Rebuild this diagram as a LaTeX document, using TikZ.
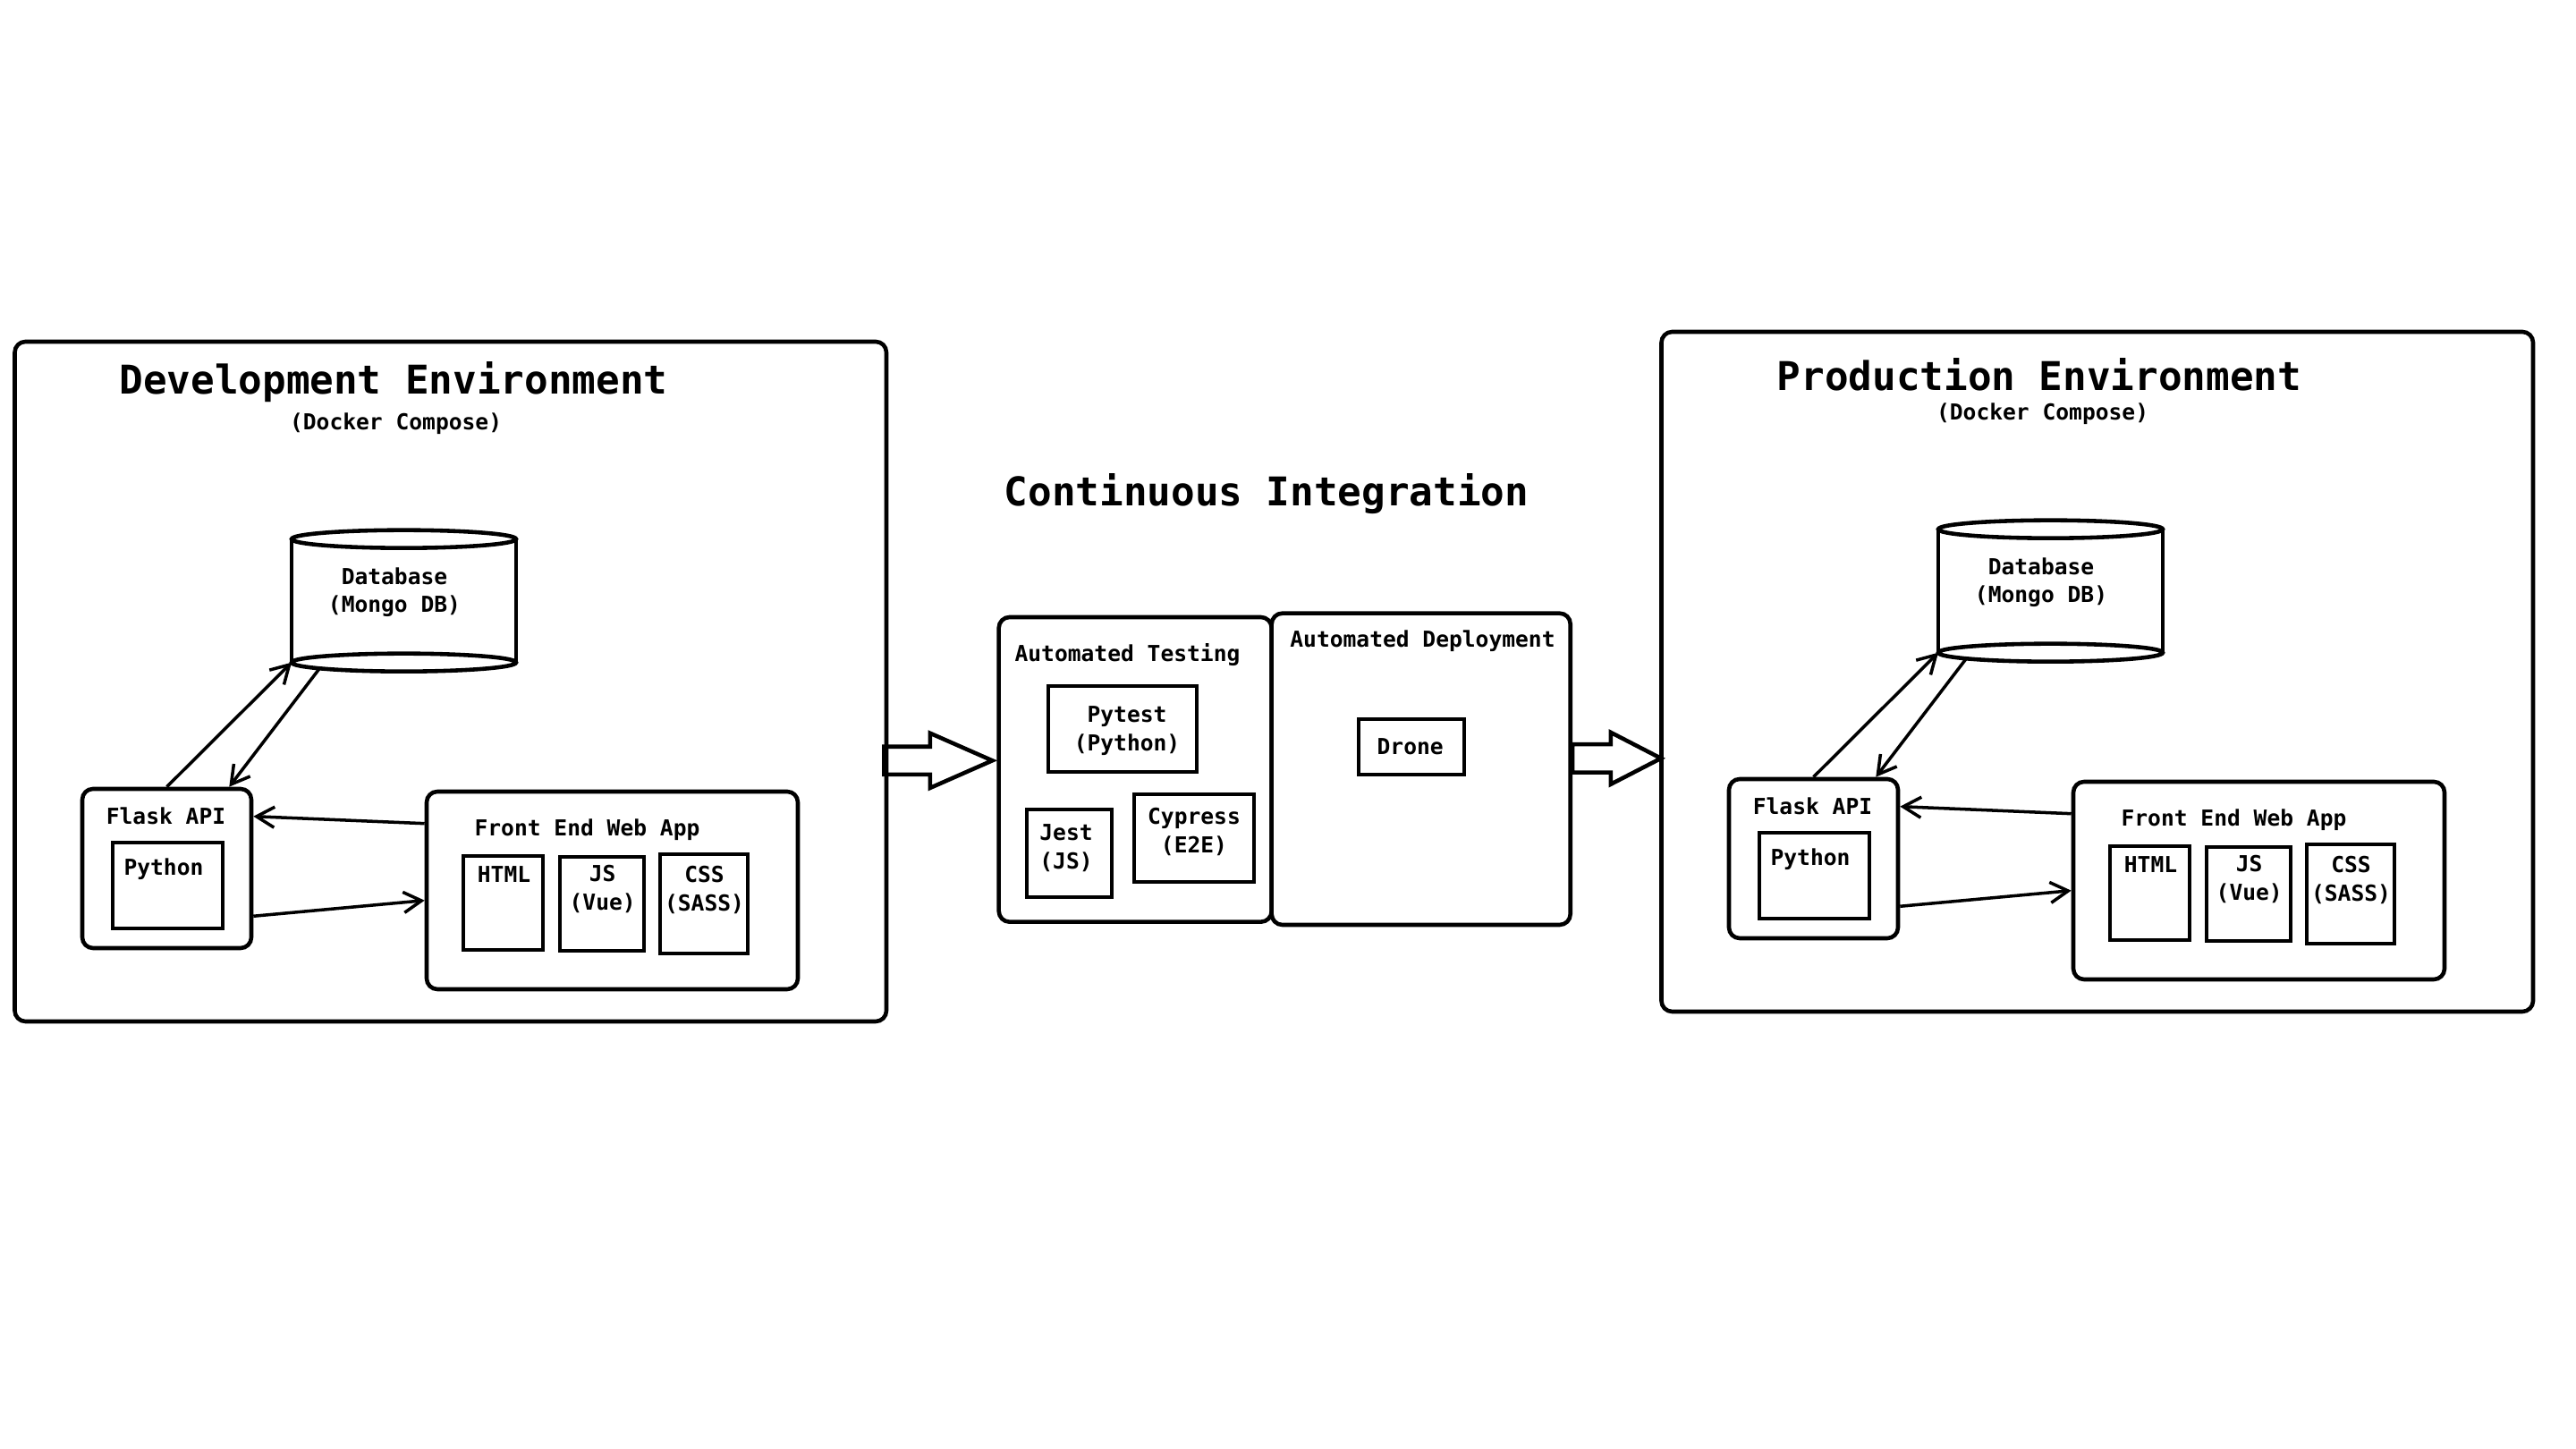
\documentclass[tikz,border=0pt]{standalone}
\usepackage{fontspec}
\setmonofont{DejaVu Sans Mono}
\usepackage{tikz}
\usetikzlibrary{shapes.arrows,arrows.meta}
\tikzstyle{texto}=[inner sep=0pt,anchor=base,align=center,font=\ttfamily\bfseries\fontsize{7}{9}\selectfont]
\tikzstyle{titulo}=[inner sep=0pt,anchor=base,font=\ttfamily\bfseries\fontsize{12.6}{15}\selectfont]
\tikzstyle{quadro}=[draw,line width=1.3pt,rounded corners=1.2mm,inner sep=0pt]
\tikzstyle{caixa}=[draw,line width=1.2pt,inner sep=0pt]
\tikzstyle{banco}=[inner sep=0pt,outer sep=0pt,minimum width=2.51cm,minimum height=1.38cm]
\tikzstyle{seta}=[line width=1pt,-{Straight Barb[length=2mm,width=2.3mm]}]
\tikzstyle{setagrande}=[draw,single arrow,line width=1.3pt,inner xsep=0pt,outer sep=0pt]

\begin{document}
\begin{tikzpicture}
    \path [fill=white] (0,0) rectangle (28.8,16.2);

    % Development
    \node [quadro,minimum width=9.745cm,minimum height=7.6cm] (devenv) at (5.0375,8.58) {};
    \node [titulo] (devtitulo) at (4.40,11.79) {Development Environment};
    \node [texto] (devdocker) at (4.426,11.39) {(Docker Compose)};
    \node [banco] (devdb) at (4.515,9.483) {};
    \draw [line width=1.3pt] (devdb.north west) -- (devdb.south west) (devdb.north east) -- (devdb.south east);
    \draw [line width=1.3pt] (devdb.north) ellipse [x radius=1.255cm, y radius=0.1cm];
    \draw [line width=1.3pt] (devdb.south) ellipse [x radius=1.255cm, y radius=0.1cm];
    \node [texto] (devdbtexto) at (4.41,9.351) {Database\\(Mongo DB)};
    \node [quadro,minimum width=1.89cm,minimum height=1.78cm] (devflask) at (1.865,6.49) {};
    \node [texto] (devflasktexto) at (1.855,6.98) {Flask API};
    \node [caixa,minimum width=1.23cm,minimum height=0.96cm] (devpy) at (1.875,6.30) {};
    \node [texto] (devpytexto) at (1.83,6.41) {Python};
    \node [quadro,minimum width=4.15cm,minimum height=2.21cm] (devfe) at (6.845,6.245) {};
    \node [texto] (devfetexto) at (6.565,6.85) {Front End Web App};
    \node [caixa,minimum width=0.89cm,minimum height=1.05cm] (devhtml) at (5.625,6.105) {};
    \node [texto] (devhtmltexto) at (5.635,6.33) {HTML};
    \node [caixa,minimum width=0.94cm,minimum height=1.05cm] (devjs) at (6.73,6.095) {};
    \node [texto] (devjstexto) at (6.737,6.024) {JS\\(Vue)};
    \node [caixa,minimum width=0.98cm,minimum height=1.11cm] (devcss) at (7.87,6.095) {};
    \node [texto] (devcsstexto) at (7.875,6.014) {CSS\\(SASS)};
    \draw [seta] (devflask.north) -- (devdb.south west);
    \draw [seta] ([xshift=3.1mm,yshift=-0.7mm]devdb.south west) -- ([xshift=-2.7mm]devflask.north east);
    \draw [seta] ([yshift=-3.8mm]devfe.north west) -- ([yshift=-3.3mm]devflask.north east);
    \draw [seta] ([yshift=3.8mm]devflask.south east) -- ([yshift=-12.4mm]devfe.north west);

    % Continuous Integration
    \node [titulo] (ci) at (14.16,10.54) {Continuous Integration};
    \node [quadro,minimum width=3.05cm,minimum height=3.407cm] (teste) at (12.692,7.5965) {};
    \node [texto] (testetexto) at (12.605,8.80) {Automated Testing};
    \node [caixa,minimum width=1.666cm,minimum height=0.96cm] (pytest) at (12.55,8.047) {};
    \node [texto] (pytesttexto) at (12.60,7.807) {Pytest\\(Python)};
    \node [caixa,minimum width=0.95cm,minimum height=0.977cm] (jest) at (11.952,6.6615) {};
    \node [texto] (jesttexto) at (11.92,6.484) {Jest\\(JS)};
    \node [caixa,minimum width=1.34cm,minimum height=0.974cm] (cypress) at (13.347,6.83) {};
    \node [texto] (cypresstexto) at (13.35,6.667) {Cypress\\(E2E)};
    \node [quadro,minimum width=3.34cm,minimum height=3.483cm] (deploy) at (15.887,7.6015) {};
    \node [texto] (deploytexto) at (15.905,8.967) {Automated Deployment};
    \node [caixa,minimum width=1.183cm,minimum height=0.617cm] (drone) at (15.78,7.8515) {};
    \node [texto] (dronetexto) at (15.767,7.767) {Drone};
    \node [setagrande,anchor=tip,minimum height=1.21cm,minimum width=0.566cm,inner ysep=0.133cm,
           single arrow head extend=0.15cm,single arrow tip angle=47.5] (setadev) at ([xshift=-0.5mm,yshift=1mm]teste.west) {};
    \node [setagrande,anchor=tail,minimum height=0.99cm,minimum width=0.534cm,inner ysep=0.135cm,
           single arrow head extend=0.132cm,single arrow tip angle=54.6] (setaprod) at ([yshift=1.2mm]deploy.east) {};

    % Production
    \begin{scope}[shift={(18.41,0.11)}]
    \node [quadro,minimum width=9.745cm,minimum height=7.6cm] (prodenv) at (5.0375,8.58) {};
    \node [titulo] (prodtitulo) at (4.39,11.72) {Production Environment};
    \node [texto] (proddocker) at (4.426,11.39) {(Docker Compose)};
    \node [banco] (proddb) at (4.515,9.483) {};
    \draw [line width=1.3pt] (proddb.north west) -- (proddb.south west) (proddb.north east) -- (proddb.south east);
    \draw [line width=1.3pt] (proddb.north) ellipse [x radius=1.255cm, y radius=0.1cm];
    \draw [line width=1.3pt] (proddb.south) ellipse [x radius=1.255cm, y radius=0.1cm];
    \node [texto] (proddbtexto) at (4.41,9.351) {Database\\(Mongo DB)};
    \node [quadro,minimum width=1.89cm,minimum height=1.78cm] (prodflask) at (1.865,6.49) {};
    \node [texto] (prodflasktexto) at (1.855,6.98) {Flask API};
    \node [caixa,minimum width=1.23cm,minimum height=0.96cm] (prodpy) at (1.875,6.30) {};
    \node [texto] (prodpytexto) at (1.83,6.41) {Python};
    \node [quadro,minimum width=4.15cm,minimum height=2.21cm] (prodfe) at (6.845,6.245) {};
    \node [texto] (prodfetexto) at (6.565,6.85) {Front End Web App};
    \node [caixa,minimum width=0.89cm,minimum height=1.05cm] (prodhtml) at (5.625,6.105) {};
    \node [texto] (prodhtmltexto) at (5.635,6.33) {HTML};
    \node [caixa,minimum width=0.94cm,minimum height=1.05cm] (prodjs) at (6.73,6.095) {};
    \node [texto] (prodjstexto) at (6.737,6.024) {JS\\(Vue)};
    \node [caixa,minimum width=0.98cm,minimum height=1.11cm] (prodcss) at (7.87,6.095) {};
    \node [texto] (prodcsstexto) at (7.875,6.014) {CSS\\(SASS)};
    \draw [seta] (prodflask.north) -- (proddb.south west);
    \draw [seta] ([xshift=3.1mm,yshift=-0.7mm]proddb.south west) -- ([xshift=-2.7mm]prodflask.north east);
    \draw [seta] ([yshift=-3.8mm]prodfe.north west) -- ([yshift=-3.3mm]prodflask.north east);
    \draw [seta] ([yshift=3.8mm]prodflask.south east) -- ([yshift=-12.4mm]prodfe.north west);
    \end{scope}
\end{tikzpicture}
\end{document}
